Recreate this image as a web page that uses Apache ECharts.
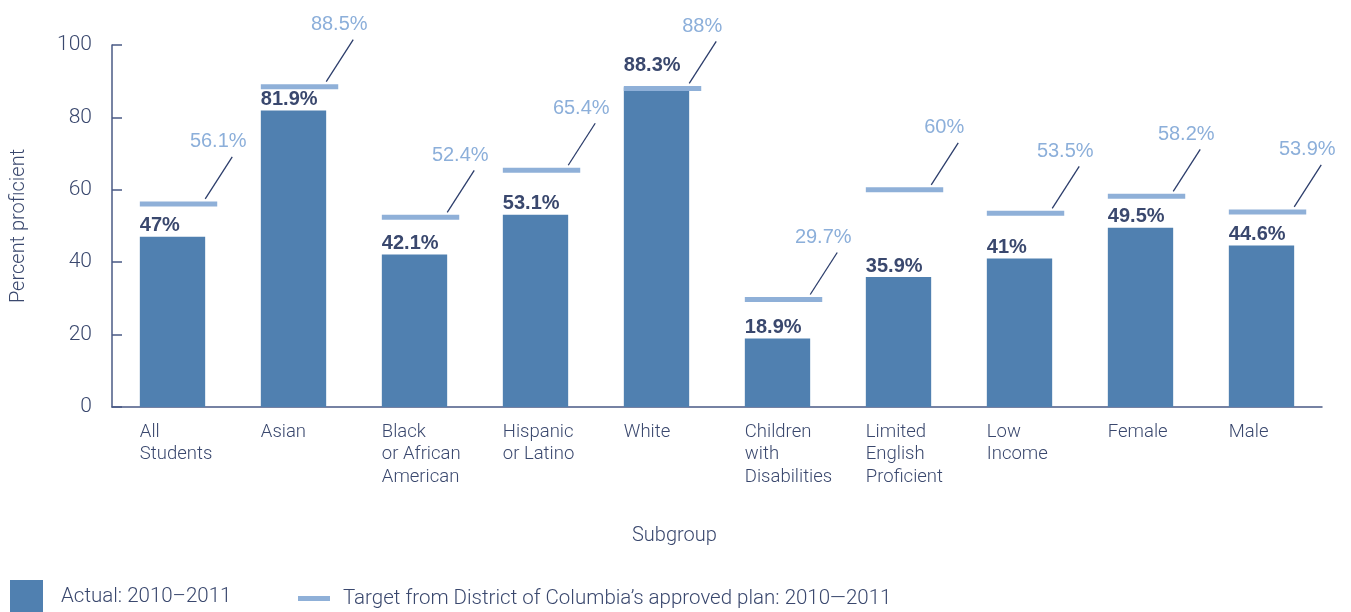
<!DOCTYPE html>
<html>
<head>
<meta charset="utf-8">
<script src="https://cdn.jsdelivr.net/npm/echarts@6/dist/echarts.min.js"></script>
<style>html,body{margin:0;padding:0;background:#fff}#c{width:1351px;height:612px}</style>
</head>
<body>
<div id="c"></div>
<script>
var categories = ['All\nStudents','Asian','Black\nor African\nAmerican','Hispanic\nor Latino','White','Children\nwith\nDisabilities','Limited\nEnglish\nProficient','Low\nIncome','Female','Male'];
var actualValues = [47, 81.9, 42.1, 53.1, 88.3, 18.9, 35.9, 41, 49.5, 44.6];
var targetValues = [56.1, 88.5, 52.4, 65.4, 88, 29.7, 60, 53.5, 58.2, 53.9];
var yTicks = [0, 20, 40, 60, 80, 100];

var DARK = '#3a486e';
var BAR = '#5080b0';
var TARGET = '#8fb0d8';
var TLABEL = '#8cafda';
var AXIS = '#4a5a85';
var LIGHTFONT = 'Roboto';
var BAR_RATIO = 0.54;

var chart = echarts.init(document.getElementById('c'));

var barData = actualValues.map(function (v, i) {
  var close = Math.abs(targetValues[i] - v) < 3;
  return {
    value: v,
    label: { position: [0, close ? -12 : -1] }
  };
});

var option = {
  animation: false,
  grid: { left: 112, right: 29, top: 45, bottom: 205, containLabel: false },
  legend: [
    {
      data: [{ name: 'Actual: 2010–2011', icon: 'rect' }],
      left: 10, top: 580, padding: 0, itemWidth: 33, itemHeight: 33,
      textStyle: { color: DARK, fontSize: 20.5, fontFamily: LIGHTFONT, fontWeight: 300, padding: [9, 0, 0, 13] },
      selectedMode: false
    },
    {
      data: [{ name: 'Target from District of Columbia’s approved plan: 2010—2011', icon: 'rect', itemStyle: { color: TARGET } }],
      left: 298, top: 588, padding: 0, itemWidth: 32, itemHeight: 5,
      textStyle: { color: DARK, fontSize: 20.5, fontFamily: LIGHTFONT, fontWeight: 300, padding: [4, 0, 0, 8] },
      selectedMode: false
    }
  ],
  xAxis: {
    type: 'category',
    data: categories,
    axisLine: { lineStyle: { color: AXIS, width: 1.5 } },
    axisTick: { show: false },
    axisLabel: { show: false }
  },
  yAxis: {
    type: 'value',
    min: 0, max: 100, interval: 20,
    name: 'Percent proficient',
    nameLocation: 'middle',
    nameGap: 83,
    nameRotate: 90,
    nameTextStyle: { color: DARK, fontSize: 20, fontFamily: LIGHTFONT, fontWeight: 300 },
    axisLine: { show: true, lineStyle: { color: AXIS, width: 1.5 } },
    axisTick: { show: true, inside: true, length: 10, lineStyle: { color: AXIS, width: 1.5 } },
    axisLabel: {
      color: DARK, fontSize: 21, fontFamily: LIGHTFONT, fontWeight: 300, margin: 20,
      formatter: function (v) { return yTicks.indexOf(v) >= 0 ? String(v) : ''; }
    },
    splitLine: { show: false }
  },
  graphic: [{
    type: 'text', left: 632, top: 526,
    style: { text: 'Subgroup', fill: DARK, font: '300 20px Roboto' }
  }],
  series: [
    {
      name: 'Actual: 2010–2011',
      type: 'bar',
      barWidth: (BAR_RATIO * 100) + '%',
      itemStyle: { color: BAR },
      data: barData,
      label: {
        show: true,
        align: 'left',
        verticalAlign: 'bottom',
        color: DARK,
        fontSize: 20,
        fontWeight: 'bold',
        fontFamily: 'Liberation Sans',
        formatter: function (p) { return p.value + '%'; }
      },
      z: 2
    },
    {
      name: 'Target from District of Columbia’s approved plan: 2010—2011',
      type: 'custom',
      itemStyle: { color: TARGET },
      clip: false,
      z: 3,
      data: targetValues.map(function (v, i) { return [i, v]; }),
      renderItem: function (params, api) {
        var idx = api.value(0), val = api.value(1);
        var c = api.coord([idx, val]);
        var band = api.size([1, 0])[0];
        var barW = band * BAR_RATIO;
        var x0 = c[0] - barW / 2;
        var x1 = x0 + barW * 77 / 65;
        var y = c[1];
        return {
          type: 'group',
          children: [
            { type: 'rect', shape: { x: x0, y: y - 2.5, width: x1 - x0, height: 5 }, style: { fill: TARGET } },
            { type: 'line', shape: { x1: x1 - 12, y1: y - 5, x2: x1 + 15, y2: y - 47 }, style: { stroke: '#2c3d6b', lineWidth: 1.3 } },
            { type: 'text', x: x1 + 1, y: y - 62, style: {
                text: val + '%', fill: TLABEL, font: '400 20px "Liberation Sans"',
                textAlign: 'center', textVerticalAlign: 'middle' } }
          ]
        };
      }
    },
    {
      type: 'custom',
      clip: false,
      silent: true,
      z: 3,
      data: categories.map(function (c, i) { return [i, 0]; }),
      renderItem: function (params, api) {
        var idx = api.value(0);
        var c = api.coord([idx, 0]);
        var band = api.size([1, 0])[0];
        var x0 = c[0] - band * BAR_RATIO / 2;
        return {
          type: 'text', x: x0, y: c[1] + 14,
          style: {
            text: categories[idx], fill: DARK, font: '300 18.5px Roboto',
            lineHeight: 22.5, textAlign: 'left', textVerticalAlign: 'top'
          }
        };
      }
    }
  ]
};
chart.setOption(option);
</script>
</body>
</html>
